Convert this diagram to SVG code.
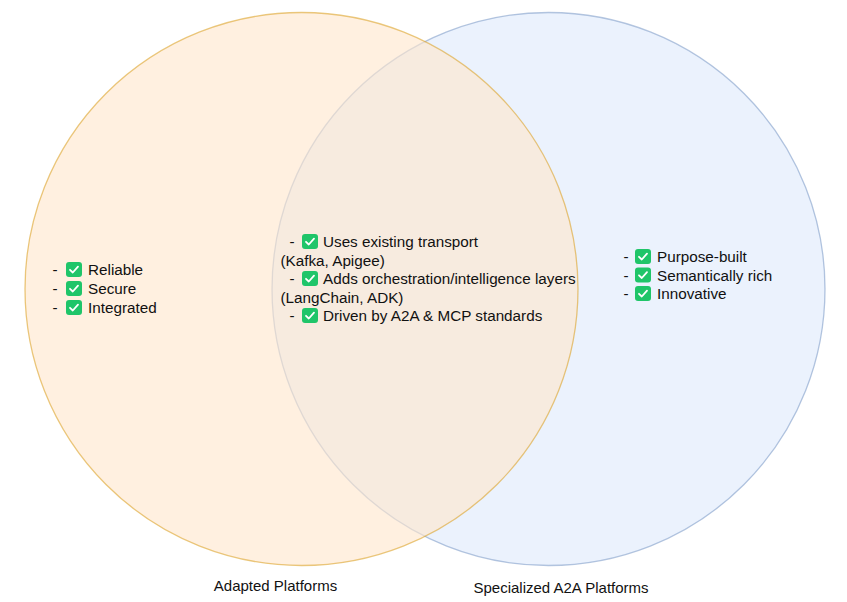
<svg xmlns="http://www.w3.org/2000/svg" xmlns:xlink="http://www.w3.org/1999/xlink" width="847" height="602" viewBox="0 0 847 602">
<style>
text{font-family:"Liberation Sans",Arial,sans-serif;font-size:15.25px;fill:#111}
.lab{text-anchor:middle;font-size:15px}
</style>
<defs>
<symbol id="chk" viewBox="0 0 16 15" overflow="visible">
<rect x="0" y="0" width="16" height="15" rx="3" ry="3" fill="#1fc569"/>
<polyline points="4,7.8 6.8,10.5 12,4.6" fill="none" stroke="#fff" stroke-width="1.8" stroke-linecap="round" stroke-linejoin="round"/>
</symbol>
</defs>
<rect width="847" height="602" fill="#fff"/>
<g id="specialized">
<circle cx="548.5" cy="289" r="276.5" fill="#dae8fc" fill-opacity="0.55" stroke="#6c8ebf" stroke-opacity="0.5" stroke-width="1.3"/>
</g>
<g id="adapted">
<circle cx="301.5" cy="289" r="276.5" fill="#ffe6cc" fill-opacity="0.6" stroke="#dca32a" stroke-opacity="0.6" stroke-width="1.3"/>
</g>
<g id="connectors"/>
<g id="adapted-list">
<text x="52.5" y="275">-</text><use xlink:href="#chk" x="66" y="262" width="16" height="15"/><text x="88" y="275">Reliable</text>
<text x="52.5" y="294">-</text><use xlink:href="#chk" x="66" y="281" width="16" height="15"/><text x="88" y="294">Secure</text>
<text x="52.5" y="313">-</text><use xlink:href="#chk" x="66" y="300" width="16" height="15"/><text x="88" y="313">Integrated</text>
</g>
<g id="shared-list">
<text x="289.5" y="247">-</text><use xlink:href="#chk" x="302" y="234" width="16" height="15"/><text x="323" y="247">Uses existing transport</text>
<text x="280.5" y="265.5">(Kafka, Apigee)</text>
<text x="289.5" y="284">-</text><use xlink:href="#chk" x="302" y="271" width="16" height="15"/><text x="323" y="284">Adds orchestration/intelligence layers</text>
<text x="280.5" y="302.5">(LangChain, ADK)</text>
<text x="289.5" y="321">-</text><use xlink:href="#chk" x="302" y="308" width="16" height="15"/><text x="323" y="321">Driven by A2A &amp; MCP standards</text>
</g>
<g id="specialized-list">
<text x="623.5" y="262">-</text><use xlink:href="#chk" x="635" y="249" width="16" height="15"/><text x="657" y="262">Purpose-built</text>
<text x="623.5" y="280.5">-</text><use xlink:href="#chk" x="635" y="267.5" width="16" height="15"/><text x="657" y="280.5">Semantically rich</text>
<text x="623.5" y="299">-</text><use xlink:href="#chk" x="635" y="286" width="16" height="15"/><text x="657" y="299">Innovative</text>
</g>
<g id="label-adapted"><text class="lab" x="275.5" y="590.5">Adapted Platforms</text></g>
<g id="label-specialized"><text class="lab" x="561" y="592.5">Specialized A2A Platforms</text></g>
</svg>
